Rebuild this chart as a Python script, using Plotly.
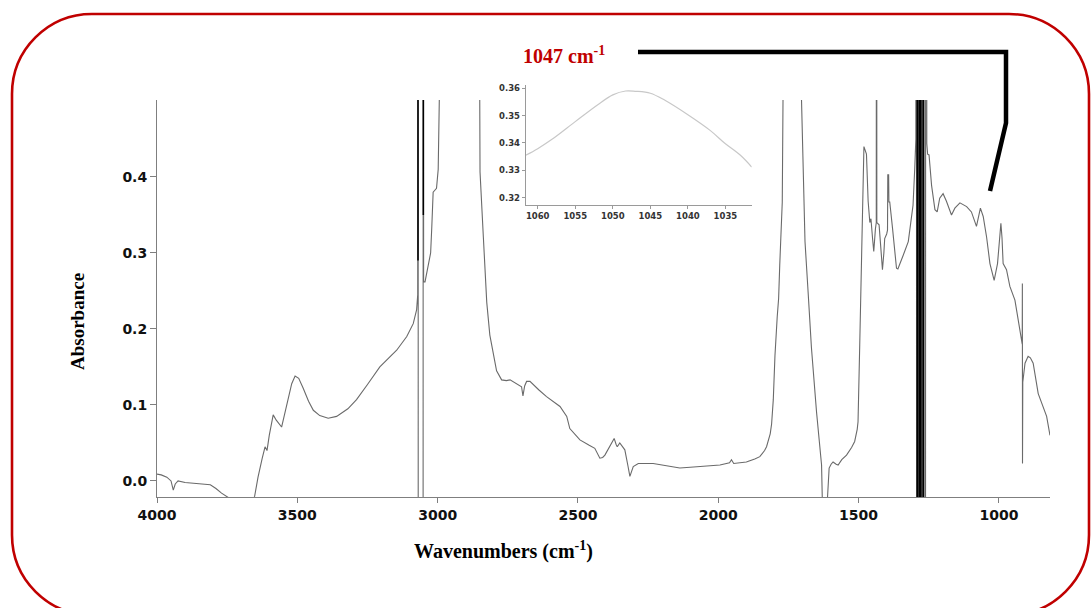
import plotly.graph_objects as go

# ---------------- data ----------------
wn = [4000, 3985, 3965, 3950, 3942, 3935, 3925, 3900, 3870, 3840, 3810, 3790, 3770, 3745, 3730, 3700,
      3670, 3652, 3640, 3625, 3615, 3608, 3600, 3586, 3575, 3556, 3540, 3520, 3508, 3495, 3479, 3460,
      3443, 3420, 3390, 3360, 3320, 3289, 3250, 3206, 3146, 3110, 3087, 3075, 3071, 3070, 3069, 3052,
      3051, 3050, 3045, 3035, 3025, 3021, 3016, 3004, 2998, 2992, 2950, 2860, 2849, 2837, 2825, 2814,
      2800, 2790, 2772, 2755, 2742, 2719, 2701, 2696, 2690, 2683, 2671, 2640, 2612, 2564, 2540, 2529,
      2493, 2460, 2440, 2422, 2412, 2404, 2386, 2371, 2364, 2360, 2351, 2340, 2333, 2322, 2315, 2303,
      2285, 2232, 2180, 2137, 2100, 2066, 2030, 1994, 1960, 1953, 1945, 1920, 1900, 1870, 1852, 1835,
      1828, 1815, 1810, 1804, 1798, 1790, 1785, 1781, 1772, 1769, 1760, 1710, 1704, 1698, 1691, 1680,
      1668, 1650, 1632, 1629, 1620, 1612, 1608, 1605, 1598, 1591, 1580, 1573, 1560, 1543, 1525, 1514,
      1505, 1502, 1496, 1490, 1486, 1481, 1472, 1466, 1460, 1456, 1450, 1446, 1440, 1437, 1436, 1435,
      1427, 1420, 1415, 1410, 1407, 1400, 1397, 1396, 1393, 1392, 1389, 1379, 1372, 1365, 1360, 1350,
      1341, 1323, 1315, 1306, 1300, 1296, 1295, 1293, 1262, 1260, 1257, 1254, 1249, 1240, 1228, 1220,
      1211, 1199, 1187, 1169, 1157, 1139, 1115, 1098, 1080, 1066, 1056, 1044, 1032, 1017, 1005, 997,
      993, 989, 985, 973, 961, 943, 932, 922, 917, 916.5, 916, 915, 907, 896, 888, 878,
      860, 848, 830, 818]
absorb = [0.009, 0.008, 0.005, 0.000, -0.012, -0.004, 0.000, -0.002, -0.003, -0.004, -0.005, -0.010, -0.016, -0.022, -0.040, -0.060,
          -0.040, -0.020, 0.005, 0.030, 0.045, 0.040, 0.060, 0.087, 0.080, 0.071, 0.095, 0.128, 0.138, 0.135, 0.122, 0.105,
          0.093, 0.086, 0.0825, 0.085, 0.095, 0.107, 0.127, 0.150, 0.172, 0.190, 0.207, 0.225, 0.245, 3.0, -1.0, -1.0,
          3.0, 0.262, 0.262, 0.280, 0.300, 0.333, 0.380, 0.385, 0.410, 0.550, 1.5, 1.5, 0.407, 0.320, 0.235, 0.192,
          0.165, 0.145, 0.133, 0.132, 0.133, 0.128, 0.124, 0.112, 0.125, 0.131, 0.131, 0.120, 0.111, 0.098, 0.085, 0.069,
          0.054, 0.047, 0.043, 0.030, 0.031, 0.034, 0.045, 0.056, 0.048, 0.045, 0.050, 0.045, 0.041, 0.020, 0.006, 0.019,
          0.023, 0.023, 0.020, 0.017, 0.018, 0.019, 0.020, 0.021, 0.024, 0.028, 0.023, 0.024, 0.025, 0.029, 0.032, 0.040,
          0.045, 0.062, 0.075, 0.107, 0.165, 0.216, 0.240, 0.284, 0.367, 0.520, 1.5, 1.5, 0.510, 0.405, 0.315, 0.249,
          0.175, 0.091, 0.021, -0.030, -0.100, -0.030, -0.005, 0.017, 0.022, 0.025, 0.022, 0.021, 0.028, 0.034, 0.044, 0.052,
          0.068, 0.078, 0.179, 0.289, 0.381, 0.440, 0.430, 0.368, 0.340, 0.345, 0.318, 0.302, 0.332, 0.340, 1.5, 0.340,
          0.337, 0.300, 0.278, 0.300, 0.319, 0.325, 0.330, 0.403, 0.403, 0.367, 0.367, 0.332, 0.300, 0.280, 0.279, 0.290,
          0.297, 0.315, 0.335, 0.363, 0.411, 0.450, 3.0, -1.0, -1.0, 3.0, 0.444, 0.430, 0.429, 0.389, 0.357, 0.354,
          0.372, 0.378, 0.368, 0.350, 0.359, 0.366, 0.361, 0.354, 0.335, 0.359, 0.348, 0.321, 0.286, 0.264, 0.286, 0.325,
          0.339, 0.320, 0.286, 0.278, 0.256, 0.238, 0.212, 0.186, 0.180, 0.260, 0.023, 0.130, 0.155, 0.164, 0.162, 0.155,
          0.115, 0.102, 0.085, 0.060]

# saturated (off-scale) bands drawn dark
sat_wn = [3070, 3070, None, 3051, 3051, None,
          1291, 1291, 1285, 1285, 1280, 1280, 1274, 1274, 1268, 1268]
sat_abs = [3.0, 0.29, None, 3.0, 0.35, None,
           3.0, -1.0, -1.0, 3.0, 3.0, -1.0, -1.0, 3.0, 3.0, -1.0]

# inset (zoom on 1047 cm-1 band)
inset_wn = [1061.6, 1060, 1058, 1055, 1052, 1050, 1048.3, 1047, 1045, 1043, 1040, 1037, 1035, 1033, 1031.5]
inset_abs = [0.3355, 0.3379, 0.3415, 0.3478, 0.3540, 0.3576, 0.3590, 0.3589, 0.3582, 0.3555, 0.3503, 0.3445, 0.3397, 0.3355, 0.3312]

x_ticks = [4000, 3500, 3000, 2500, 2000, 1500, 1000]
y_ticks = [0.0, 0.1, 0.2, 0.3, 0.4]
y_ticklabels = ["0.0", "0.1", "0.2", "0.3", "0.4"]
ix_ticks = [1060, 1055, 1050, 1045, 1040, 1035]
iy_ticks = [0.32, 0.33, 0.34, 0.35, 0.36]
iy_ticklabels = ["0.32", "0.33", "0.34", "0.35", "0.36"]

annotation_text = "1047 cm<sup>-1</sup>"
x_title = "Wavenumbers (cm<sup>-1</sup>)"
y_title = "Absorbance"

# ---------------- layout helpers ----------------
W, H = 1091, 608
ML, MR, MT, MB = 157, 41, 80, 111
PW = W - ML - MR
PH = H - MT - MB


def px(x):
    return (x - ML) / PW


def py(y):
    return (H - MB - y) / PH


def pt(x, y):
    return f"{px(x):.5f},{py(y):.5f}"


# rounded border
x0, x1, y0, y1, r = 12, 1089, 14, 615, 80
k = 0.5523 * r
border = (f"M {pt(x0 + r, y0)} L {pt(x1 - r, y0)} "
          f"C {pt(x1 - r + k, y0)} {pt(x1, y0 + r - k)} {pt(x1, y0 + r)} "
          f"L {pt(x1, y1 - r)} "
          f"C {pt(x1, y1 - r + k)} {pt(x1 - r + k, y1)} {pt(x1 - r, y1)} "
          f"L {pt(x0 + r, y1)} "
          f"C {pt(x0 + r - k, y1)} {pt(x0, y1 - r + k)} {pt(x0, y1 - r)} "
          f"L {pt(x0, y0 + r)} "
          f"C {pt(x0, y0 + r - k)} {pt(x0 + r - k, y0)} {pt(x0 + r, y0)} Z")

callout = f"M {pt(638, 52)} L {pt(1006, 52)} L {pt(1006, 123)} L {pt(990, 191)}"

fig = go.Figure()
fig.add_trace(go.Scatter(x=wn, y=absorb, mode="lines",
                         line=dict(color="#6a6a6a", width=1.1), hoverinfo="skip", showlegend=False))
fig.add_trace(go.Scatter(x=sat_wn, y=sat_abs, mode="lines", connectgaps=False,
                         line=dict(color="#000000", width=1.5), hoverinfo="skip", showlegend=False))
fig.add_trace(go.Scatter(x=inset_wn, y=inset_abs, mode="lines", xaxis="x2", yaxis="y2",
                         line=dict(color="#c8c8c8", width=1.2, shape="spline"), hoverinfo="skip", showlegend=False))

tick_font = dict(family="DejaVu Sans", size=14, color="#111111", weight="bold")
inset_font = dict(family="DejaVu Sans", size=8.5, color="#333333", weight="bold")
serif = "Liberation Serif, Times New Roman, serif"

fig.update_layout(
    width=W, height=H,
    margin=dict(l=ML, r=MR, t=MT, b=MB, pad=0),
    paper_bgcolor="white", plot_bgcolor="white",
    xaxis=dict(range=[4000, 818], domain=[0, 1], tickvals=x_ticks, ticktext=[str(v) for v in x_ticks],
               showgrid=False, zeroline=False, showline=True, linecolor="#7f7f7f", linewidth=1,
               ticks="outside", ticklen=5, tickcolor="#7f7f7f", tickfont=tick_font),
    yaxis=dict(range=[-0.0211, 0.5013], domain=[0, 397 / PH], tickvals=y_ticks, ticktext=y_ticklabels,
               showgrid=False, zeroline=False, showline=True, linecolor="#7f7f7f", linewidth=1,
               ticks="outside", ticklen=6, tickcolor="#7f7f7f", tickfont=tick_font),
    xaxis2=dict(range=[1061.6, 1031.5], domain=[px(525.7), px(751.7)], anchor="y2",
                tickvals=ix_ticks, ticktext=[str(v) for v in ix_ticks],
                showgrid=False, zeroline=False, showline=True, linecolor="#9a9a9a", linewidth=1,
                ticks="outside", ticklen=3, tickcolor="#9a9a9a", tickfont=inset_font),
    yaxis2=dict(range=[0.3173, 0.3612], domain=[py(205), py(85)], anchor="x2",
                tickvals=iy_ticks, ticktext=iy_ticklabels,
                showgrid=False, zeroline=False, showline=True, linecolor="#9a9a9a", linewidth=1,
                ticks="outside", ticklen=3, tickcolor="#9a9a9a", tickfont=inset_font),
    shapes=[
        dict(type="path", path=border, xref="paper", yref="paper",
             line=dict(color="#c00000", width=2.6), fillcolor="rgba(0,0,0,0)", layer="above"),
        dict(type="path", path=callout, xref="paper", yref="paper",
             line=dict(color="#000000", width=4.5), fillcolor="rgba(0,0,0,0)", layer="above"),
    ],
    annotations=[
        dict(text=annotation_text, x=px(564), y=py(55), xref="paper", yref="paper", showarrow=False,
             xanchor="center", yanchor="middle",
             font=dict(family=serif, size=20, color="#c00000", weight="bold")),
        dict(text=x_title, x=px(503), y=py(550), xref="paper", yref="paper", showarrow=False,
             xanchor="center", yanchor="middle",
             font=dict(family=serif, size=20, color="#000000", weight="bold")),
        dict(text=y_title, x=px(77), y=py(322), xref="paper", yref="paper", showarrow=False,
             xanchor="center", yanchor="middle", textangle=-90,
             font=dict(family=serif, size=19, color="#000000", weight="bold")),
    ],
)

fig.write_html("out.html")
